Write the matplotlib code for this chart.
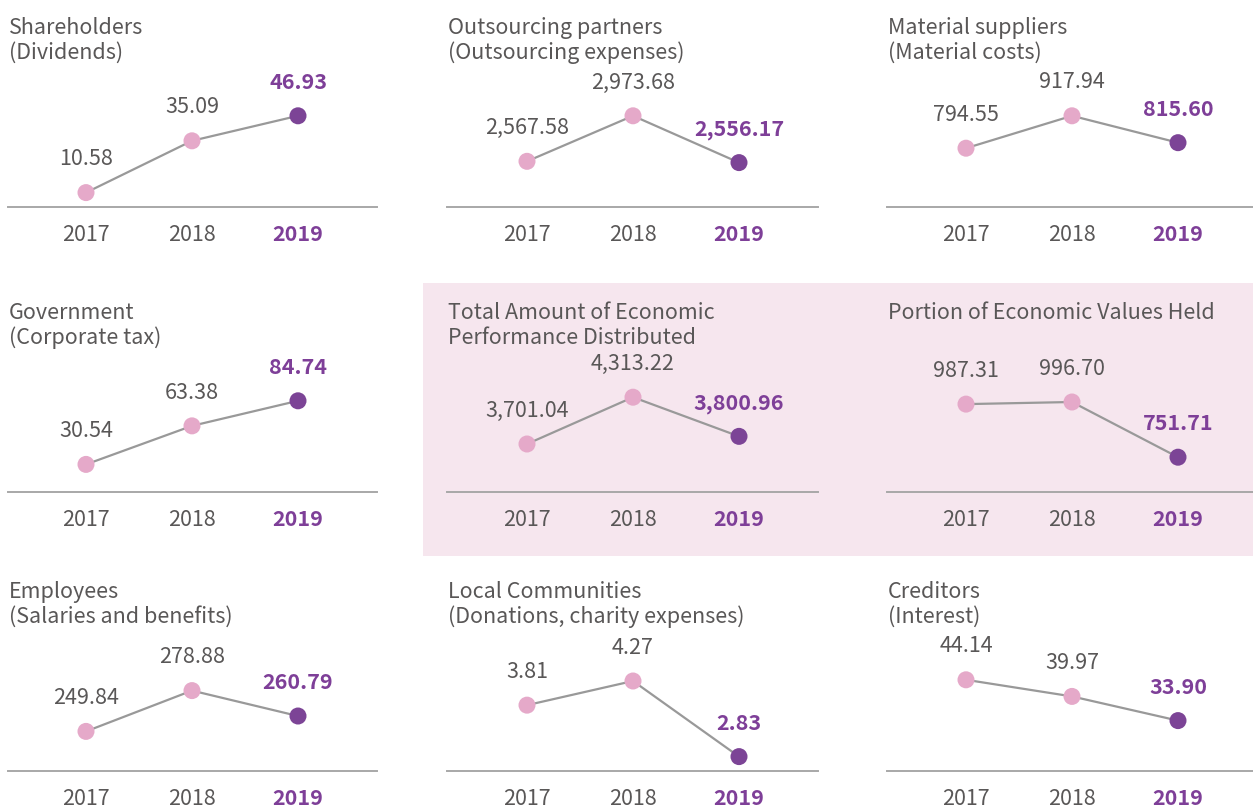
import matplotlib

matplotlib.use("Agg")
import matplotlib.pyplot as plt
from matplotlib.patches import Rectangle

plt.rcParams["font.family"] = ["Noto Sans CJK KR", "DejaVu Sans"]

# 데이터 (단위: 억원)
years = ["2017", "2018", "2019"]
titles = [
    "Shareholders\n(Dividends)",
    "Outsourcing partners\n(Outsourcing expenses)",
    "Material suppliers\n(Material costs)",
    "Government\n(Corporate tax)",
    "Total Amount of Economic\nPerformance Distributed",
    "Portion of Economic Values Held",
    "Employees\n(Salaries and benefits)",
    "Local Communities\n(Donations, charity expenses)",
    "Creditors\n(Interest)",
]
shareholders = [10.58, 35.09, 46.93]
outsourcing = [2567.58, 2973.68, 2556.17]
materials = [794.55, 917.94, 815.60]
government = [30.54, 63.38, 84.74]
total_distributed = [3701.04, 4313.22, 3800.96]
values_held = [987.31, 996.70, 751.71]
employees = [249.84, 278.88, 260.79]
communities = [3.81, 4.27, 2.83]
creditors = [44.14, 39.97, 33.90]
series = [shareholders, outsourcing, materials, government, total_distributed,
          values_held, employees, communities, creditors]

# 패널별 최소/최대값이 놓일 세로 위치 (축 높이 대비 비율)
min_frac = [0.12, 0.37, 0.49, 0.23, 0.40, 0.29, 0.33, 0.12, 0.42]
max_frac = [0.76, 0.76, 0.76, 0.76, 0.79, 0.75, 0.67, 0.75, 0.76]

TEXT = "#595757"
PURPLE = "#7e3f98"
PINK = "#e5a9c9"
DARK = "#7c4496"
LINE = "#999999"
BG = "#f6e6ee"

W, H = 1253, 807
fig = plt.figure(figsize=(W / 100, H / 100), dpi=100)

# 강조 배경
fig.patches.append(Rectangle((423 / W, 1 - 556 / H), (W - 423) / W, 273 / H,
                             transform=fig.transFigure, facecolor=BG,
                             edgecolor="none", zorder=-5))

col_left = [8, 447, 887]
col_right = [377, 818, 1253]
first_pt = [86, 527, 966]
step = 106
baselines = [207, 492, 771]
ax_h = 120

for i, vals in enumerate(series):
    r, c = divmod(i, 3)
    x0, x1 = col_left[c], col_right[c]
    yb = baselines[r]
    ax = fig.add_axes([x0 / W, 1 - yb / H, (x1 - x0) / W, ax_h / H])
    ax.patch.set_alpha(0)
    ax.set_zorder(2)

    # x축: 0,1,2 위치를 픽셀 간격에 맞춤
    left = -(first_pt[c] - x0) / step
    ax.set_xlim(left, left + (x1 - x0) / step)

    lo, hi = min(vals), max(vals)
    span = (hi - lo) / (max_frac[i] - min_frac[i])
    ymin = lo - min_frac[i] * span
    ax.set_ylim(ymin, ymin + span)

    xs = range(len(years))
    ax.plot(xs, vals, color=LINE, lw=1.6, zorder=2)
    ax.scatter(xs[:2], vals[:2], s=150, color=PINK, zorder=3, edgecolors="none")
    ax.scatter([xs[2]], [vals[2]], s=150, color=DARK, zorder=3, edgecolors="none")

    for j, v in enumerate(vals):
        last = j == len(vals) - 1
        ax.annotate(f"{v:,.2f}", (j, v), xytext=(0, 24), textcoords="offset points",
                    ha="center", va="center", fontsize=15.5,
                    color=PURPLE if last else TEXT,
                    fontweight="semibold" if last else "normal",
                    annotation_clip=False)

    for s in ["top", "right", "left"]:
        ax.spines[s].set_visible(False)
    ax.spines["bottom"].set_color("#a8a8a8")
    ax.spines["bottom"].set_linewidth(1.4)
    ax.set_yticks([])
    ax.set_xticks(list(xs))
    ax.set_xticklabels(years, fontsize=15.5, color=TEXT)
    ax.tick_params(axis="x", length=0, pad=12)
    lab = ax.get_xticklabels()[-1]
    lab.set_color(PURPLE)
    lab.set_fontweight("semibold")

    fig.text((x0 + 1) / W, 1 - (yb - 190) / H, titles[i], ha="left", va="top",
             fontsize=15.5, color=TEXT, fontweight="medium", linespacing=1.15,
             zorder=3)

fig.savefig("out.png", dpi=100)
